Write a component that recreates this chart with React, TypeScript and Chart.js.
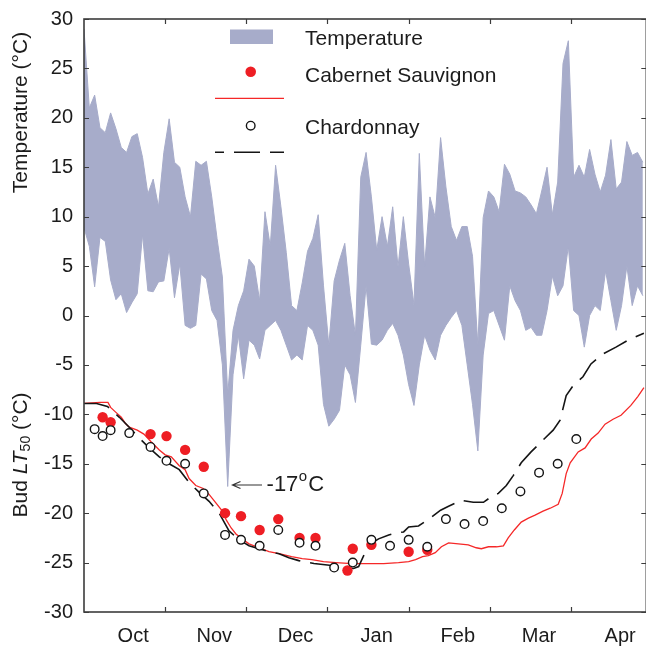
import React, { useEffect, useRef } from 'react';
import { Chart, registerables } from 'chart.js';

Chart.register(...registerables);

// ---------------- data ----------------
// x values are days counted from the left edge of the plot (~1 Sept)
const MONTH_LABELS = ['Oct', 'Nov', 'Dec', 'Jan', 'Feb', 'Mar', 'Apr'];
const MONTH_TICK_DAYS = [30.5, 61, 91.5, 122, 152.5, 183, 213.5];

// daily temperature band, one value every 2 days starting at day 0
const TEMP_START_DAY = 0;
const TEMP_STEP_DAYS = 2;
const tempMax = [
  29, 21, 22.3, 19, 18.5, 20.5, 18.9, 17, 16.5, 18.1,
  18.4, 16, 12.3, 13.8, 11, 16.5, 19.9, 15.5, 15, 12,
  10, 15.6, 15.2, 15.6, 12, 7.8, 3.9, -8, -1.5, 1,
  2.5, 5.7, 5, 1.5, 10.5, 7, 15.2, 11, 6.4, 1,
  0.5, 3.3, 6.5, 7.8, 10.2, 3, -3, 3.5, 5.6, 7.3,
  2, -2, 14, 16.5, 12, 6.6, 10, 7, 11, 4.9,
  10, 5.2, 1.1, 16.4, 5, 12, 9.9, 18, 13, 9,
  7.6, 9, 9, 6, -3, 9.9, 12.6, 12, 10.5, 15.3,
  14.3, 12.6, 12.4, 12, 11.2, 10.3, 12.6, 15, 10.2, 13.5,
  25.5, 27.8, 14, 15.2, 14, 16.8, 14.3, 12.5, 14.2, 17.8,
  12.8, 13.5, 17.6, 16.2, 16.5, 15.5,
];
const tempMin = [
  8.9, 7, 2.9, 7.9, 7.5, 3.6, 1.6, 2.2, 0.3, 1.3,
  2.2, 8.2, 2.5, 2.4, 3.4, 3.5, 6.8, 1.8, 5.2, -1,
  -1.3, -1, 4.2, 3.7, 0.5, -0.5, -5, -17.3, -6, -2,
  -6.4, -2.5, -3, -4.4, -1.5, -1, -0.5, -1.5, -3, -4.5,
  -4, -4.5, -1, -1.5, -3, -9, -11.2, -10.5, -9.6, -5,
  -6, -8.8, -3, 3, -2.9, -3, -2.5, -1.5, -0.8, -2,
  -4, -7, -9.1, -5, -2, -3.5, -4.5, -2, -1, -0.2,
  0.5, -1, -5, -9, -13.7, -4, 0.2, 0.5, -1, -2.5,
  3, 1.5, 0.5, -1.5, -1.2, -2, -2, 0.5, 4, 2,
  3, 7, 0.5, 0, -3.2, 0, 1, 0.5, 4.5, 1.5,
  -1.5, 1, 5, 1, 3, 2,
];

// measured bud LT50
const cabDays = [7, 10, 25, 31, 38, 45, 53, 59, 66, 73, 81, 87, 99, 101, 108, 122, 129];
const cabLT50 = [-10.3, -10.8, -12.0, -12.2, -13.6, -15.3, -20.0, -20.3, -21.7, -20.6, -22.5, -22.5, -25.8, -23.6, -23.2, -23.9, -23.7];

const chardDays = [4, 7, 10, 17, 25, 31, 38, 45, 53, 59, 66, 73, 81, 87, 94, 101, 108, 115, 122, 129, 136, 143, 150, 157, 164, 171, 178, 185];
const chardLT50 = [-11.5, -12.2, -11.6, -11.9, -13.3, -14.7, -15.0, -18.0, -22.2, -22.7, -23.3, -21.7, -23.0, -23.3, -25.5, -25.0, -22.7, -23.3, -22.7, -23.4, -20.6, -21.1, -20.8, -19.5, -17.8, -15.9, -15.0, -12.5];

// modelled bud LT50
const cabModelDays = [0, 6, 9, 10, 12, 14, 15.5, 17, 20, 22.5, 25.3, 28.3, 30.5, 32.8, 35.8, 38, 39.5, 42, 44.8, 47, 49.4, 51.7, 53.5, 55.3, 57.1, 59.4, 62, 65.8, 69.5, 73.3, 78, 82, 85.6, 90, 94.6, 100.6, 107, 112.6, 118.2, 122, 124.6, 127.2, 129.4, 132, 134.3, 137, 140.7, 144.4, 147.4, 149.3, 152, 155, 157.6, 159.4, 161.7, 164.3, 167, 169.5, 172.5, 175.2, 178.2, 179.7, 181.2, 182.7, 185.7, 188.3, 190.6, 193.2, 195.8, 198.8, 201.8, 205.5, 208.1, 210.4];
const cabModelLT50 = [-8.9, -8.8, -8.8, -9.3, -9.8, -10.3, -10.9, -11.3, -11.6, -12.0, -12.8, -13.6, -14.1, -14.3, -15.2, -15.6, -16.5, -17.2, -17.5, -18.1, -18.9, -19.7, -20.7, -21.5, -22.1, -22.6, -23.1, -23.5, -23.9, -24.1, -24.4, -24.6, -24.7, -24.9, -25.0, -25.1, -25.1, -25.1, -25.0, -24.9, -24.7, -24.4, -24.3, -24.0, -23.4, -23.0, -23.1, -23.2, -23.5, -23.6, -23.4, -23.4, -23.3, -22.5, -21.7, -20.9, -20.5, -20.2, -19.8, -19.5, -19.1, -18.0, -16.0, -14.9, -13.8, -13.4, -12.5, -11.9, -11.0, -10.5, -10.1, -9.1, -8.2, -7.3];

const chardModelDays = [0, 4.7, 8.8, 13.3, 17, 20.8, 24.5, 28.3, 32, 35.8, 39.5, 43.3, 47, 50.8, 54.5, 58.3, 62, 65.8, 69.5, 73.3, 77, 80.7, 86.4, 93.1, 97.6, 101.3, 103.2, 105.1, 107.7, 110.7, 114.5, 117.1, 120.1, 122, 125.7, 130.6, 134, 137, 141.9, 146.3, 150.1, 153.8, 155.7, 158.7, 161.3, 164.3, 168, 172.5, 176.3, 178.9, 181.2, 183.8, 187.5, 190.5, 195, 199.9, 204.4, 210.4];
const chardModelLT50 = [-8.9, -8.9, -9.2, -10.3, -11.3, -12.4, -13.4, -14.3, -15.0, -15.6, -16.9, -17.9, -18.8, -20.0, -21.8, -22.7, -23.3, -23.6, -23.9, -24.1, -24.5, -24.8, -25.1, -25.3, -25.5, -25.6, -25.4, -24.3, -23.1, -22.6, -22.2, -22.0, -21.9, -21.4, -21.3, -20.4, -19.7, -19.3, -18.7, -18.9, -18.9, -18.2, -18.0, -17.2, -16.2, -14.9, -13.8, -12.6, -11.6, -10.6, -8.1, -7.1, -6.2, -4.9, -3.9, -3.2, -2.5, -1.8];

// annotation of the minimum temperature
const ANNOT_TIP_DAY = 55.8;
const ANNOT_TAIL_DAY = 66.9;
const ANNOT_TEXT_DAY = 68.6;
const ANNOT_VALUE = -17.15;

// ---------------- styles ----------------
const FONT = '"Liberation Sans", Arial, Helvetica, sans-serif';
const BAND = 'rgb(167,172,202)';
const RED = 'rgb(238,30,36)';
const RED_LINE = 'rgb(245,40,40)';
const BLACK = '#151515';
const AXIS = '#3c3c3c';
const TEXT = '#1c1c1c';
const TICK_LEN = 5;

const xy = (xs: number[], ys: number[]) => ys.map((v, i) => ({ x: xs[i], y: v }));
const bandXY = (ys: number[]) => ys.map((v, i) => ({ x: TEMP_START_DAY + i * TEMP_STEP_DAYS, y: v }));

const framePlugin = {
  id: 'frameTicks',
  afterDatasetsDraw(chart: any) {
    const { ctx, chartArea, scales } = chart;
    const { left, right, top, bottom } = chartArea;
    const x = scales.x;
    const y = scales.y;
    ctx.save();
    ctx.strokeStyle = AXIS;
    ctx.lineWidth = 1.6;
    ctx.strokeRect(left, top, right - left, bottom - top);
    ctx.lineWidth = 1.2;
    ctx.beginPath();
    MONTH_TICK_DAYS.forEach((d) => {
      const px = Math.round(x.getPixelForValue(d)) + 0.5;
      if (px > left + 1 && px < right - 1) {
        ctx.moveTo(px, top);
        ctx.lineTo(px, top + TICK_LEN);
        ctx.moveTo(px, bottom);
        ctx.lineTo(px, bottom - TICK_LEN);
      }
    });
    y.ticks.forEach((t: any) => {
      const py = Math.round(y.getPixelForValue(t.value)) + 0.5;
      ctx.moveTo(left, py);
      ctx.lineTo(left + TICK_LEN, py);
      ctx.moveTo(right, py);
      ctx.lineTo(right - TICK_LEN, py);
    });
    ctx.stroke();
    ctx.restore();
  },
};

const decorPlugin = {
  id: 'decor',
  afterDraw(chart: any) {
    const { ctx, scales } = chart;
    const x = scales.x;
    const y = scales.y;
    ctx.save();

    // axis titles
    ctx.fillStyle = TEXT;
    ctx.textBaseline = 'middle';
    ctx.save();
    ctx.translate(21, 112.5);
    ctx.rotate(-Math.PI / 2);
    ctx.font = `21px ${FONT}`;
    ctx.textAlign = 'center';
    ctx.fillText('Temperature (°C)', 0, 0);
    ctx.restore();

    ctx.save();
    ctx.translate(21, 455);
    ctx.rotate(-Math.PI / 2);
    ctx.textAlign = 'left';
    const parts = [
      { t: 'Bud ', f: `21px ${FONT}`, dy: 0 },
      { t: 'LT', f: `italic 21px ${FONT}`, dy: 0 },
      { t: '50', f: `14px ${FONT}`, dy: 5 },
      { t: ' (°C)', f: `21px ${FONT}`, dy: 0 },
    ];
    let total = 0;
    parts.forEach((p) => { ctx.font = p.f; total += ctx.measureText(p.t).width; });
    let cx = -total / 2;
    parts.forEach((p) => {
      ctx.font = p.f;
      ctx.fillText(p.t, cx, p.dy);
      cx += ctx.measureText(p.t).width;
    });
    ctx.restore();

    // legend
    ctx.textAlign = 'left';
    ctx.textBaseline = 'alphabetic';
    ctx.font = `21px ${FONT}`;
    ctx.fillStyle = BAND;
    ctx.fillRect(230, 29.5, 43, 14.5);
    ctx.fillStyle = TEXT;
    ctx.fillText('Temperature', 305, 44.5);

    ctx.fillStyle = RED;
    ctx.beginPath();
    ctx.arc(250.7, 71.7, 5.3, 0, Math.PI * 2);
    ctx.fill();
    ctx.fillStyle = TEXT;
    ctx.fillText('Cabernet Sauvignon', 305, 81.5);

    ctx.strokeStyle = RED_LINE;
    ctx.lineWidth = 1.3;
    ctx.beginPath();
    ctx.moveTo(215, 98.3);
    ctx.lineTo(284, 98.3);
    ctx.stroke();

    ctx.fillStyle = '#fff';
    ctx.strokeStyle = BLACK;
    ctx.lineWidth = 1.4;
    ctx.beginPath();
    ctx.arc(250.7, 125.7, 4.3, 0, Math.PI * 2);
    ctx.fill();
    ctx.stroke();
    ctx.fillStyle = TEXT;
    ctx.fillText('Chardonnay', 305, 134);

    ctx.save();
    ctx.strokeStyle = BLACK;
    ctx.lineWidth = 1.6;
    ctx.setLineDash([26, 10]);
    ctx.lineDashOffset = 17;
    ctx.beginPath();
    ctx.moveTo(215, 152.3);
    ctx.lineTo(284, 152.3);
    ctx.stroke();
    ctx.restore();

    // annotation arrow + text
    const ay = y.getPixelForValue(ANNOT_VALUE);
    const tipX = x.getPixelForValue(ANNOT_TIP_DAY);
    const tailX = x.getPixelForValue(ANNOT_TAIL_DAY);
    ctx.strokeStyle = '#333';
    ctx.lineWidth = 1.2;
    ctx.beginPath();
    ctx.moveTo(tailX, ay);
    ctx.lineTo(tipX, ay);
    ctx.moveTo(tipX + 8, ay - 3.5);
    ctx.lineTo(tipX, ay);
    ctx.lineTo(tipX + 8, ay + 3.5);
    ctx.stroke();
    const tx = x.getPixelForValue(ANNOT_TEXT_DAY);
    ctx.fillStyle = TEXT;
    ctx.font = `22px ${FONT}`;
    ctx.fillText('-17', tx, ay + 6);
    let w = ctx.measureText('-17').width;
    ctx.font = `15px ${FONT}`;
    ctx.fillText('o', tx + w + 0.5, ay - 4);
    w += ctx.measureText('o').width + 1.5;
    ctx.font = `22px ${FONT}`;
    ctx.fillText('C', tx + w, ay + 6);

    ctx.restore();
  },
};

export default function App() {
  const ref = useRef<HTMLCanvasElement | null>(null);

  useEffect(() => {
    if (!ref.current) return;
    Chart.defaults.font.family = FONT;
    const chart = new Chart(ref.current, {
      type: 'line',
      data: {
        datasets: [
          {
            label: 'Temperature',
            data: bandXY(tempMax),
            borderColor: BAND,
            backgroundColor: BAND,
            borderWidth: 1,
            pointRadius: 0,
            fill: 1,
            order: 10,
          },
          {
            label: 'Temperature min',
            data: bandXY(tempMin),
            borderColor: BAND,
            backgroundColor: BAND,
            borderWidth: 1,
            pointRadius: 0,
            fill: false,
            order: 11,
          },
          {
            label: 'Cabernet Sauvignon model',
            data: xy(cabModelDays, cabModelLT50),
            borderColor: RED_LINE,
            borderWidth: 1.3,
            pointRadius: 0,
            fill: false,
            order: 5,
          },
          {
            label: 'Chardonnay model',
            data: xy(chardModelDays, chardModelLT50),
            borderColor: BLACK,
            borderWidth: 1.6,
            borderDash: [26, 10],
            pointRadius: 0,
            fill: false,
            order: 4,
          },
          {
            label: 'Cabernet Sauvignon',
            data: xy(cabDays, cabLT50),
            showLine: false,
            pointRadius: 5.2,
            pointBackgroundColor: RED,
            pointBorderColor: RED,
            pointBorderWidth: 0,
            order: 2,
          },
          {
            label: 'Chardonnay',
            data: xy(chardDays, chardLT50),
            showLine: false,
            pointRadius: 4.3,
            pointBackgroundColor: '#ffffff',
            pointBorderColor: BLACK,
            pointBorderWidth: 1.4,
            order: 1,
          },
        ],
      },
      options: {
        animation: false,
        responsive: false,
        devicePixelRatio: 1,
        events: [],
        layout: { padding: { top: 19, right: 4, bottom: 0, left: 0 } },
        plugins: {
          legend: { display: false },
          tooltip: { enabled: false },
        },
        scales: {
          x: {
            type: 'linear',
            min: 0,
            max: 211.3,
            grid: { display: false, drawTicks: false },
            border: { display: false },
            afterBuildTicks: (s: any) => {
              s.ticks = MONTH_TICK_DAYS.map((v) => ({ value: v }));
            },
            afterFit: (s: any) => {
              s.height = 35;
              s.paddingLeft = 0;
              s.paddingRight = 0;
            },
            ticks: {
              autoSkip: false,
              maxRotation: 0,
              minRotation: 0,
              labelOffset: -32,
              padding: 12,
              color: TEXT,
              font: { size: 20, family: FONT },
              callback: (_v: any, i: number) => MONTH_LABELS[i],
            },
          },
          y: {
            type: 'linear',
            min: -30,
            max: 30,
            grid: { display: false, drawTicks: false },
            border: { display: false },
            afterFit: (s: any) => {
              s.width = 84;
              s.paddingTop = 0;
              s.paddingBottom = 0;
            },
            ticks: {
              stepSize: 5,
              padding: 11,
              color: TEXT,
              font: { size: 20, family: FONT },
              callback: (v: any) => String(v),
            },
          },
        },
      } as any,
      plugins: [framePlugin, decorPlugin],
    });
    return () => chart.destroy();
  }, []);

  return (
    <div
      style={{
        position: 'fixed',
        left: 0,
        top: 0,
        width: 646,
        height: 647,
        overflow: 'hidden',
        background: '#fff',
      }}
    >
      <canvas ref={ref} width={652} height={647} style={{ display: 'block', width: 652, height: 647 }} />
    </div>
  );
}
